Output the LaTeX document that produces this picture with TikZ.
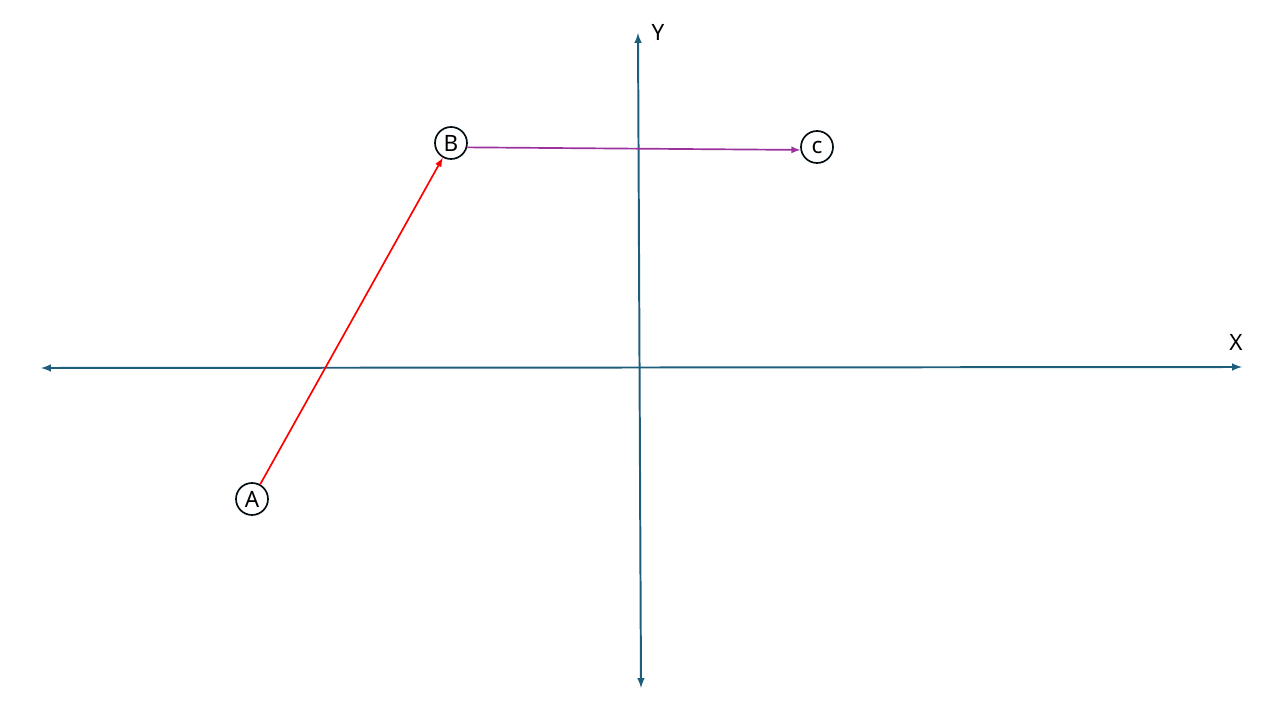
\documentclass[tikz,border=0pt]{standalone}
\usepackage{fontspec}
\setmainfont{Noto Sans}
\definecolor{axisblue}{RGB}{31,93,124}
\definecolor{pointpurple}{RGB}{155,50,155}
\tikzset{
  axis/.style={<->,line width=1.4pt,draw=axisblue},
  point/.style={circle,draw=black!85!axisblue,line width=1.2pt,minimum size=0.8cm,inner sep=0pt,fill=white}
}
\begin{document}
\begin{tikzpicture}[font=\fontsize{16}{19}\selectfont,>=latex]
\useasboundingbox (0,0) rectangle (32,18);
\coordinate (xl) at (1.025,8.8);
\coordinate (xr) at (31.05,8.825);
\coordinate (yt) at (15.95,17.175);
\coordinate (yb) at (16.025,0.8);
\draw [axis] (xl) -- (xr);
\draw [axis] (yb) -- (yt);
\node (xlab) at (30.9,9.45) {X};
\node (ylab) at (16.45,17.2) {Y};
\node [point] (A) at (6.3,5.525) {A};
\node [point] (B) at (11.275,14.425) {B};
\node [point] (C) at (20.425,14.325) {c};
\draw [->,red,line width=1.2pt] (A) -- (B);
\draw [->,pointpurple,line width=1.2pt] (B.-15) -- (C.190);
\end{tikzpicture}
\end{document}
